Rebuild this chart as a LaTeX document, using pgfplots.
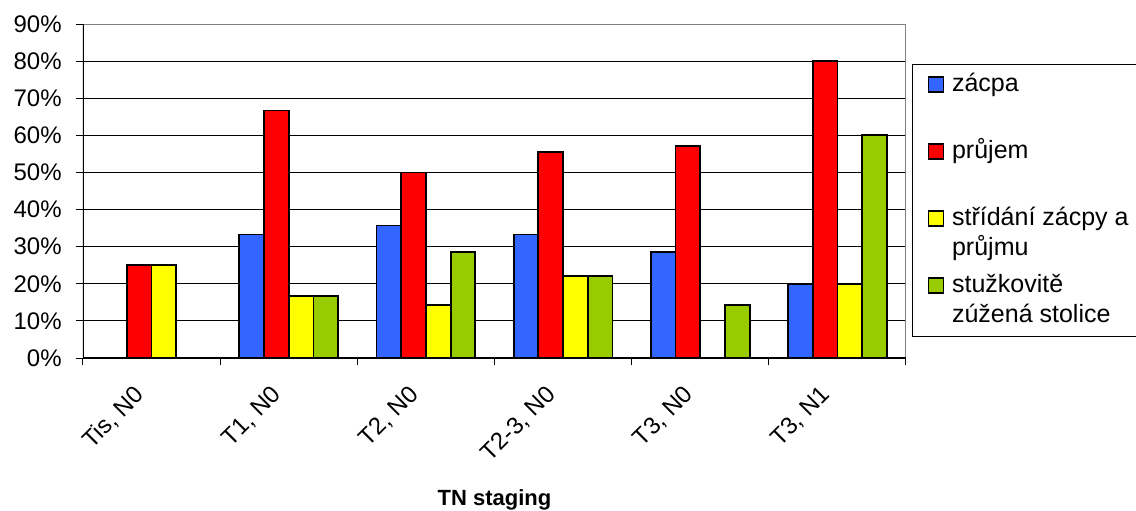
\documentclass[border=0pt]{standalone}
\usepackage{fontspec}
\setmainfont{Liberation Sans}
\usepackage{pgfplots}
\pgfplotsset{compat=1.18}
\definecolor{czacpa}{HTML}{3366FF}
\definecolor{cprujem}{HTML}{FF0000}
\definecolor{cstridani}{HTML}{FFFF00}
\definecolor{cstuzka}{HTML}{99CC00}
\definecolor{frgray}{HTML}{808080}
\pgfplotsset{sqlegend/.style={legend image code/.code={%
  \path[draw=none,fill=none] (0pt,-11.5pt) rectangle (7.5pt,11.5pt);
  \draw[##1,line width=0.75pt] (0pt,4pt) rectangle (7.5pt,11.5pt);}}}
\newcommand{\lent}[1]{\parbox[c][30pt][t]{100pt}{\strut #1}}
\begin{document}
\begin{tikzpicture}
\useasboundingbox (0,0) rectangle (568pt,255pt);
\begin{axis}[
  at={(41.5pt,76pt)}, anchor=south west,
  scale only axis, width=411.5pt, height=167pt,
  xmin=-0.5, xmax=5.5, ymin=0, ymax=90,
  ybar=0pt, bar width=12.35pt,
  axis line style={draw=none},
  tick pos=left, tick align=outside, major tick length=3.5pt,
  ytick={0,10,...,90},
  yticklabels={0\%,10\%,20\%,30\%,40\%,50\%,60\%,70\%,80\%,90\%},
  ymajorgrids, major grid style={black, line width=0.5pt},
  xtick={-0.5,0.5,1.5,2.5,3.5,4.5,5.5},
  xticklabels={,,,,,,},
  extra x ticks={0,1,2,3,4,5},
  extra x tick labels={{Tis, N0},{T1, N0},{T2, N0},{T2-3, N0},{T3, N0},{T3, N1}},
  extra x tick style={major tick length=0pt, xticklabel style={xshift=-5.5pt, rotate=45, anchor=east, inner sep=0pt}},
  xticklabel shift=16.5pt,
  yticklabel style={inner sep=0pt},
  yticklabel shift=7pt,
  tick label style={font=\fontsize{12}{14}\selectfont},
  tick style={black, line width=0.5pt},
  xlabel={\textbf{TN staging}},
  xlabel style={at={(axis description cs:0.5,0)}, anchor=base, yshift=-73.5pt, font=\fontsize{11}{13}\selectfont},
  legend style={at={(axis description cs:1.00729,0.880)}, anchor=north west, draw=black, line width=0.6pt, font=\fontsize{12.5}{15}\selectfont, inner xsep=7.5pt, inner ysep=2.75pt, nodes={inner sep=0pt, text depth=}, column sep=4pt, row sep=3.5pt},
  legend cell align=left,
]
\addplot[fill=czacpa, draw=black, line width=0.9pt, sqlegend] coordinates {(1,33.3) (2,35.7) (3,33.3) (4,28.6) (5,20)};
\addlegendentry{\lent{zácpa}}
\addplot[fill=cprujem, draw=black, line width=0.9pt, sqlegend] coordinates {(0,25) (1,66.7) (2,50) (3,55.6) (4,57.1) (5,80)};
\addlegendentry{\lent{průjem}}
\addplot[fill=cstridani, draw=black, line width=0.9pt, sqlegend] coordinates {(0,25) (1,16.7) (2,14.3) (3,22.2) (5,20)};
\addlegendentry{\lent{střídání zácpy a\newline průjmu}}
\addplot[fill=cstuzka, draw=black, line width=0.9pt, sqlegend] coordinates {(1,16.7) (2,28.6) (3,22.2) (4,14.3) (5,60)};
\addlegendentry{\lent{stužkovitě\newline zúžená stolice}}
\draw[frgray, line width=0.8pt] (rel axis cs:0,1) -- (rel axis cs:1,1) -- (rel axis cs:1,0);
\draw[black, line width=0.6pt] (rel axis cs:0,1) -- (rel axis cs:0,0) -- (rel axis cs:1,0);
\end{axis}
\end{tikzpicture}
\end{document}
